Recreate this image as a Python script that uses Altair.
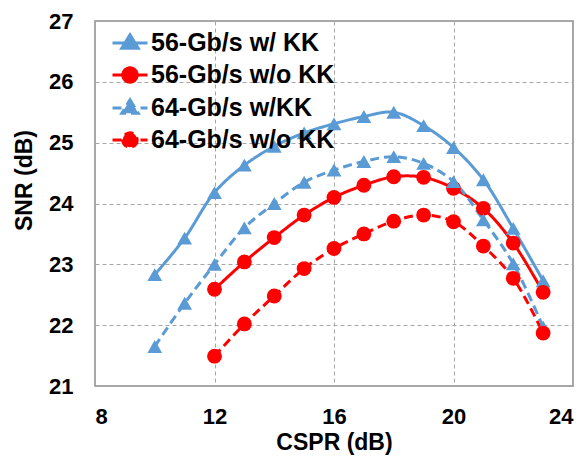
import altair as alt
import pandas as pd

# CSPR sweep points (dB)
cspr_a = [10, 11, 12, 13, 14, 15, 16, 17, 18, 19, 20, 21, 22, 23]
cspr_b = [12, 13, 14, 15, 16, 17, 18, 19, 20, 21, 22, 23]

# SNR (dB) for each configuration
snr_56_kk = [22.83, 23.43, 24.18, 24.63, 24.94, 25.16, 25.31, 25.43, 25.50, 25.28, 24.92, 24.39, 23.59, 22.73]
snr_56_nokk = [22.59, 23.04, 23.44, 23.81, 24.10, 24.30, 24.44, 24.43, 24.25, 23.92, 23.35, 22.54]
snr_64_kk = [21.65, 22.36, 23.00, 23.60, 24.00, 24.35, 24.55, 24.69, 24.77, 24.66, 24.36, 23.73, 23.01, 21.97]
snr_64_nokk = [21.49, 22.02, 22.48, 22.93, 23.26, 23.50, 23.71, 23.81, 23.70, 23.30, 22.77, 21.87]

series = ["56-Gb/s w/ KK", "56-Gb/s w/o KK", "64-Gb/s w/KK", "64-Gb/s w/o KK"]
colors = ["#5B9BD5", "#FF0000", "#5B9BD5", "#FF0000"]
dashes = [[1, 0], [1, 0], [9, 5], [9, 5]]
shapes = ["triangle-up", "circle", "triangle-up", "circle"]
xs_all = [cspr_a, cspr_b, cspr_a, cspr_b]
ys_all = [snr_56_kk, snr_56_nokk, snr_64_kk, snr_64_nokk]

# legend glyphs: a short line with the marker in its middle (unit coordinates)
TRI = "M-1,0H1M0,-0.47L0.47,0.3L-0.47,0.3Z"
CIRC = "M-1,0H1M0.41,0A0.41,0.41,0,1,1,-0.41,0A0.41,0.41,0,1,1,0.41,0Z"
legend_shapes = [TRI, CIRC, TRI, CIRC]

rows = []
for name, xs, ys in zip(series, xs_all, ys_all):
    for x, y in zip(xs, ys):
        rows.append({"series": name, "cspr": x, "snr": y})
df = pd.DataFrame(rows)

FONT = "Liberation Sans"

x_enc = alt.X(
    "cspr:Q",
    scale=alt.Scale(domain=[8, 24], nice=False),
    axis=alt.Axis(values=[8, 12, 16, 20, 24], title="CSPR (dB)"),
)
y_enc = alt.Y(
    "snr:Q",
    scale=alt.Scale(domain=[21, 27], nice=False),
    axis=alt.Axis(values=[21, 22, 23, 24, 25, 26, 27], title="SNR (dB)",
                  titleX=-71, titleY=159, titleAlign="center", titleBaseline="middle"),
)

legend = alt.Legend(
    title=None,
    orient="none",
    legendX=16,
    legendY=3,
    padding=0,
    symbolSize=1225,
    symbolStrokeWidth=3,
    symbolOpacity=1,
    labelFont=FONT,
    labelFontSize=25,
    labelFontWeight="bold",
    labelColor="#000000",
    labelOffset=2,
    rowPadding=0,
    labelLimit=400,
)

# invisible layer that only carries the legend (line + marker glyphs)
key = alt.Chart(df).mark_point(filled=True, opacity=0, strokeWidth=3, size=1225).encode(
    x=x_enc,
    y=y_enc,
    color=alt.Color("series:N", scale=alt.Scale(domain=series, range=colors), legend=legend),
    stroke=alt.Stroke("series:N", scale=alt.Scale(domain=series, range=colors), legend=legend),
    strokeDash=alt.StrokeDash("series:N", scale=alt.Scale(domain=series, range=dashes), legend=legend),
    shape=alt.Shape("series:N", scale=alt.Scale(domain=series, range=legend_shapes), legend=legend),
)

layers = [key]
for name, col, dash, shp in zip(series, colors, dashes, shapes):
    sub = alt.Chart(df).transform_filter(alt.datum.series == name)
    layers.append(
        sub.mark_line(strokeWidth=3, interpolate="catmull-rom", color=col, strokeDash=dash)
        .encode(x=x_enc, y=y_enc)
    )
for name, col, dash, shp in zip(series, colors, dashes, shapes):
    sub = alt.Chart(df).transform_filter(alt.datum.series == name)
    layers.append(
        sub.mark_point(filled=True, opacity=1, size=220, color=col, shape=shp)
        .encode(x=x_enc, y=y_enc)
    )

chart = (
    alt.layer(*layers)
    .properties(
        width=478,
        height=365,
        autosize=alt.AutoSizeParams(type="none"),
        padding={"left": 95, "top": 21, "right": 14, "bottom": 73},
        background="white",
    )
    .configure_view(stroke="#8C8C8C", strokeWidth=1.5)
    .configure_axis(
        grid=True,
        gridColor="#A6A6A6",
        gridDash=[4, 3],
        gridWidth=1,
        domain=False,
        ticks=False,
        labelFont=FONT,
        labelFontSize=22,
        labelFontWeight="bold",
        labelColor="#000000",
        titleFont=FONT,
        titleFontSize=23,
        titleFontWeight="bold",
        titleColor="#000000",
    )
    .configure_axisX(labelPadding=20, titlePadding=4)
    .configure_axisY(labelPadding=22)
)

chart.save("out.html", embed_options={"renderer": "svg", "actions": False})
